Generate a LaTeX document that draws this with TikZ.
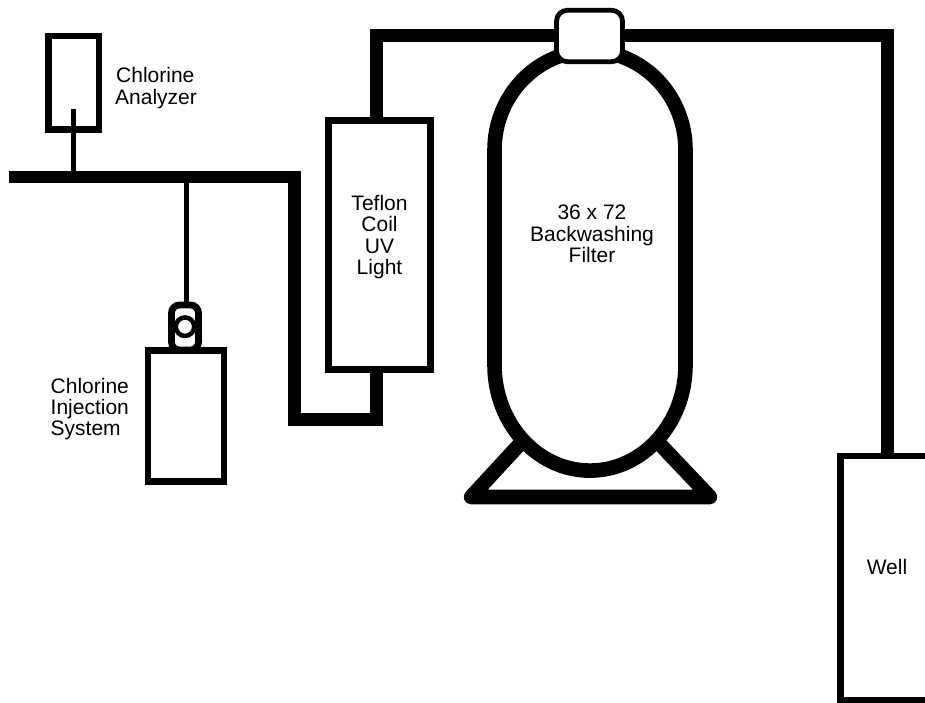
\documentclass[tikz,border=0pt]{standalone}
\usepackage{fontspec}
\setmainfont{Liberation Sans}
\usetikzlibrary{positioning}

\begin{document}
\begin{tikzpicture}[
  x=1pt, y=1pt,
  font=\fontsize{21}{21.4}\selectfont,
  unit/.style={draw=black, line width=6.8pt, fill=white, inner sep=0pt, align=center},
  pipe/.style={draw=black, line width=12.8pt, line join=miter},
  tube/.style={draw=black, line width=4.8pt},
  vessel/.style={draw=black, line width=14.6pt, fill=white},
  lbl/.style={align=center, inner sep=0pt},
  lblleft/.style={align=left, inner sep=0pt, anchor=west}
]
\useasboundingbox (0,0) rectangle (925,702);
% main line
\coordinate (inlet) at (9,525);
\coordinate (elbow) at (294.5,525);
\coordinate (drop) at (294.5,282.5);
\coordinate (rise) at (376.5,282.5);
\coordinate (topleft) at (376.5,666.5);
\coordinate (topright) at (887.5,666.5);
% filter vessel
\draw[vessel, line join=round] (471,205) -- (542,282) -- (637,282) -- (710,205) -- cycle;
\draw[vessel] (494.5,337) arc[start angle=180, end angle=360, x radius=95.5, y radius=105.6]
  -- (685.5,552) arc[start angle=0, end angle=180, x radius=95.5, y radius=99] -- cycle;
\node[lbl] (filter) at (592,468) {36 x 72\\Backwashing\\Filter};
% units
\node[unit, minimum width=102pt, minimum height=249pt] (coil) at (379.5,457) {};
\node[unit, minimum width=50.5pt, minimum height=93.5pt] (analyzer) at (73.7,619.2) {};
\node[unit, minimum width=76pt, minimum height=131pt] (injection) at (186,286) {};
\node[unit, minimum width=120pt, minimum height=244pt] (well) at (900.5,124) {};
\node[lbl] (coillbl) at (379.5,465) {Teflon\\Coil\\UV\\Light};
\node[lblleft] (analyzerlbl) at (115,614) {\hspace*{1pt}Chlorine\\Analyzer};
\node[lblleft] (injectionlbl) at (50.5,293) {Chlorine\\Injection\\System};
\node[lbl] (welllbl) at (887,135) {Well};
% pipework
\draw[pipe] (inlet) -- (elbow) -- (drop) -- (rise) -- (rise |- coil.south);
\draw[pipe] (rise |- coil.north) -- (topleft) -- (topright) -- (topright |- well.north);
\node[draw=black, line width=4.8pt, fill=white, rounded corners=11pt, minimum width=66pt, minimum height=51.5pt] (head) at (589.5,666) {};
% small lines
\coordinate (tap) at (73.7,593);
\coordinate (main) at (73.7,525);
\coordinate (feed) at (186.5,525);
\draw[tube] (tap) -- (main);
% injection valve
\node[draw=black, line width=6.8pt, fill=white, rounded corners=8pt, minimum width=27pt, minimum height=45pt] (valve) at (185,374.5) {};
\node[circle, draw=black, line width=4.6pt, fill=white, minimum size=18.5pt, inner sep=0pt] (check) at (185,375.3) {};
\draw[tube] (feed) -- (feed |- valve.north);
\end{tikzpicture}
\end{document}
